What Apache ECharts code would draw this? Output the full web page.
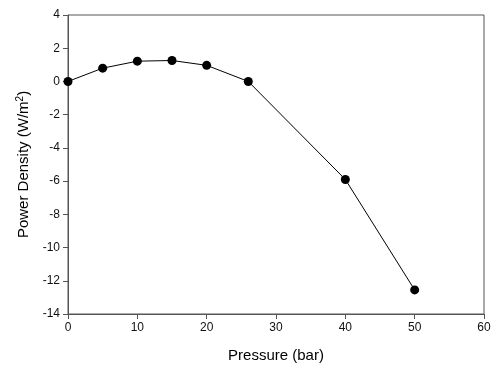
<!DOCTYPE html>
<html><head><meta charset="utf-8">
<script src="https://cdn.jsdelivr.net/npm/echarts@6/dist/echarts.min.js"></script>
<style>html,body{margin:0;padding:0;background:#fff}#c{width:500px;height:373px}</style>
</head><body><div id="c"></div>
<script>
const pressure = [0, 5, 10, 15, 20, 26, 40, 50];
const powerDensity = [0, 0.8, 1.22, 1.26, 0.97, 0.0, -5.9, -12.55];
const xTicks = [0, 10, 20, 30, 40, 50, 60];
const yTicks = [-14, -12, -10, -8, -6, -4, -2, 0, 2, 4];

const chart = echarts.init(document.getElementById('c'));
const font = 'Liberation Sans, Arial, sans-serif';
chart.setOption({
  animation: false,
  grid: {left: 68, right: 16, top: 15, bottom: 59, show: true, borderColor: '#555', borderWidth: 1, backgroundColor: 'transparent'},
  xAxis: {
    type: 'value', min: xTicks[0], max: xTicks[xTicks.length-1], interval: 10,
    name: 'Pressure (bar)', nameLocation: 'middle', nameGap: 34,
    nameTextStyle: {fontFamily: font, fontSize: 15, color: '#000'},
    axisLine: {show: true, onZero: false, lineStyle: {color: '#555', width: 1}},
    axisTick: {show: true, length: 5, inside: false, lineStyle: {color: '#555'}},
    axisLabel: {fontFamily: font, fontSize: 12, color: '#111', margin: 8},
    splitLine: {show: false}
  },
  yAxis: {
    type: 'value', min: yTicks[0], max: yTicks[yTicks.length-1], interval: 2,
    name: '{a|Power Density (W/m}{s|2}{a|)}', nameLocation: 'middle', nameGap: 35, nameRotate: 90,
    nameTextStyle: {rich: {
      a: {fontFamily: font, fontSize: 15, color: '#000'},
      s: {fontFamily: font, fontSize: 10, color: '#000', verticalAlign: 'top', padding: [0,0,8,0]}
    }},
    axisLine: {show: true, onZero: false, lineStyle: {color: '#555', width: 1}},
    axisTick: {show: true, length: 5, inside: false, lineStyle: {color: '#555'}},
    axisLabel: {fontFamily: font, fontSize: 12, color: '#111', margin: 8},
    splitLine: {show: false}
  },
  series: [{
    type: 'line',
    data: pressure.map((p, i) => [p, powerDensity[i]]),
    symbol: 'circle', symbolSize: 9,
    itemStyle: {color: '#000'},
    lineStyle: {color: '#000', width: 1}
  }]
});
</script></body></html>
